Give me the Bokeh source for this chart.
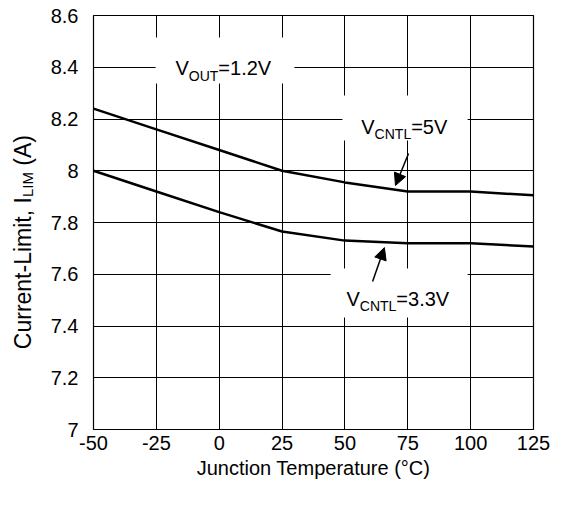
import math
from bokeh.plotting import figure
from bokeh.layouts import row
from bokeh.models import Label, BoxAnnotation, Arrow, NormalHead, FixedTicker, Range1d
from bokeh.embed import file_html
from bokeh.resources import INLINE

# ---- data ----
temps = [-50, -25, 0, 25, 50, 75, 100, 125]
ilim_vcntl_5v = [8.24, 8.16, 8.08, 8.00, 7.955, 7.92, 7.92, 7.905]
ilim_vcntl_3v3 = [8.00, 7.92, 7.84, 7.765, 7.73, 7.72, 7.72, 7.707]
x_ticks = [-50, -25, 0, 25, 50, 75, 100, 125]
x_tick_labels = ["-50", "-25", "0", "25", "50", "75", "100", "125"]
y_ticks = [7, 7.2, 7.4, 7.6, 7.8, 8, 8.2, 8.4, 8.6]
y_tick_labels = ["7", "7.2", "7.4", "7.6", "7.8", "8", "8.2", "8.4", "8.6"]

FONT = "Liberation Sans"
# Arial/Liberation Sans advance widths (per 1000 em)
W = {"V": 667, "O": 778, "U": 722, "T": 611, "C": 722, "N": 722, "L": 556, "I": 278,
     "M": 833, "=": 584, ".": 278, " ": 278, "(": 333, ")": 333, "A": 667, "u": 556,
     "r": 333, "e": 556, "n": 556, "t": 278, "-": 333, "i": 222, "m": 833, ",": 278}
for d in "0123456789":
    W[d] = 556


def tw(s, size):
    return sum(W[c] for c in s) / 1000.0 * size


LAB_W = 45
p = figure(width=514, height=500, output_backend="svg", toolbar_location=None,
           x_range=Range1d(-50, 125), y_range=Range1d(7, 8.6),
           min_border_left=93 - LAB_W, min_border_right=26, min_border_top=15,
           min_border_bottom=71)
p.background_fill_color = "white"
p.border_fill_color = "white"
p.outline_line_color = "black"
p.outline_line_width = 1.2

p.xaxis.ticker = FixedTicker(ticks=x_ticks)
p.yaxis.ticker = FixedTicker(ticks=y_ticks)
p.xaxis.major_label_overrides = {t: l for t, l in zip(x_ticks, x_tick_labels)}
p.yaxis.major_label_overrides = {t: l for t, l in zip(y_ticks, y_tick_labels)}
for ax in (p.xaxis, p.yaxis):
    ax.axis_line_color = None
    ax.major_tick_line_color = None
    ax.minor_tick_line_color = None
    ax.major_label_text_font = FONT
    ax.major_label_text_font_size = "20px"
    ax.major_label_text_color = "black"
p.yaxis.major_label_standoff = 9
p.xaxis.major_label_standoff = 0
p.xaxis.axis_label = "Junction Temperature (\u00b0C)"
p.xaxis.axis_label_text_font = FONT
p.xaxis.axis_label_text_font_size = "20px"
p.xaxis.axis_label_text_font_style = "normal"
p.xaxis.axis_label_text_color = "black"
p.xaxis.axis_label_standoff = 4

for g in (p.xgrid, p.ygrid):
    g.grid_line_color = "black"
    g.grid_line_width = 1
    g.grid_line_alpha = 1

p.line(temps, ilim_vcntl_5v, line_color="black", line_width=2.5)
p.line(temps, ilim_vcntl_3v3, line_color="black", line_width=2.5)

# white patches behind annotation texts
for (l, r, b, t) in [(-25.3, 29.9, 8.337, 8.515), (49.0, 98.8, 8.117, 8.291), (44.3, 98.8, 7.433, 7.622)]:
    p.add_layout(BoxAnnotation(left=l, right=r, bottom=b, top=t, fill_color="white",
                               fill_alpha=1, line_color=None))


def sub_text(fig, x, y, parts, angle=0.0, along_y=False):
    off = 0.0
    for txt, size, shift in parts:
        stripped = txt.lstrip(" ")
        off += tw(" " * (len(txt) - len(stripped)), size)
        if along_y:
            xo, yo = shift, off
        else:
            xo, yo = off, -shift
        fig.add_layout(Label(x=x, y=y, x_offset=xo, y_offset=yo, text=stripped, text_font=FONT,
                             text_font_size=f"{size}px", text_color="black",
                             angle=angle, angle_units="rad",
                             text_align="left", text_baseline="alphabetic"))
        off += tw(stripped, size)


sub_text(p, -17.4, 8.399, [("V", 20, 0), ("OUT", 14, 8), ("=1.2V", 20, 0)])
sub_text(p, 56.5, 8.171, [("V", 20, 0), ("CNTL", 14, 7), ("=5V", 20, 0)])
sub_text(p, 50.6, 7.505, [("V", 20, 0), ("CNTL", 14, 7), ("=3.3V", 20, 0)])

# arrows
for (xs, ys, xe, ye) in [(75.3, 8.067, 70.1, 7.943), (61.0, 7.572, 65.7, 7.703)]:
    p.add_layout(Arrow(x_start=xs, y_start=ys, x_end=xe, y_end=ye, line_width=1.5,
                       line_color="black",
                       end=NormalHead(size=12, fill_color="black", line_color="black")))

# narrow companion figure carrying the rotated y-axis title (with subscript)
lab = figure(width=LAB_W, height=500, output_backend="svg", toolbar_location=None,
             x_range=Range1d(0, LAB_W), y_range=Range1d(0, 500),
             x_axis_type=None, y_axis_type=None, min_border=0)
lab.outline_line_color = None
lab.xgrid.visible = False
lab.ygrid.visible = False
lab.background_fill_color = "white"
lab.border_fill_color = "white"
sub_text(lab, 22, 97, [("Current-Limit, I", 23, 0), ("LIM", 15, 5), (" (A)", 23, 0)],
         angle=math.pi / 2, along_y=True)

layout = row(lab, p, spacing=0)
open("out.html", "w").write(file_html(layout, INLINE))
